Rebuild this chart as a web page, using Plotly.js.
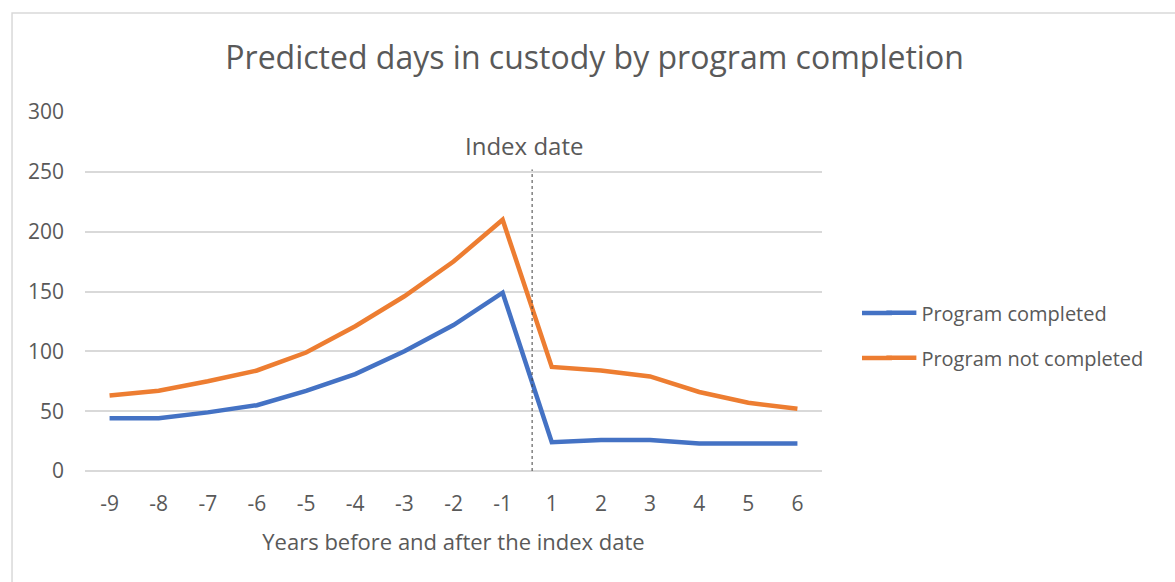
<!DOCTYPE html>
<html>
<head>
<meta charset="utf-8">
<script src="https://cdn.plot.ly/plotly-3.0.1.min.js"></script>
<style>
html,body{margin:0;padding:0;background:#fff;}
#chart{width:1175px;height:582px;}
</style>
</head>
<body>
<div id="chart"></div>
<script>
const years = ['-9','-8','-7','-6','-5','-4','-3','-2','-1','1','2','3','4','5','6'];
const programCompleted = [44, 44, 49, 55, 67, 81, 100, 122, 149, 24, 26, 26, 23, 23, 23];
const programNotCompleted = [63, 67, 75, 84, 99, 121, 146, 175, 210, 87, 84, 79, 66, 57, 52];
const seriesNames = ['Program completed', 'Program not completed'];
const seriesColors = ['#4472C4', '#ED7D31'];
const indexDatePos = 8.6;   // between -1 and 1 on the category axis
const indexLineTop = 252;
const indexLabel = 'Index date';

const FONT = 'Open Sans, sans-serif';
const GREY = '#595959';

const traces = [programCompleted, programNotCompleted].map((vals, i) => ({
  x: years,
  y: vals,
  type: 'scatter',
  mode: 'lines',
  name: seriesNames[i],
  legendgroup: 'g' + i,
  line: {color: seriesColors[i], width: 4.5},
  hoverinfo: 'x+y+name'
}));

// plot area: 85..822 px wide (737), 112..471 px high (359)
const px = v => (v - 85) / 737;
const py = v => (471 - v) / 359;

const legendRowsY = [313, 358];
const legendExt = legendRowsY.map((yy, i) => ({
  type: 'line', xref: 'paper', yref: 'paper',
  x0: px(862), x1: px(892), y0: py(yy), y1: py(yy),
  line: {color: seriesColors[i], width: 4.5}
}));

const layout = {
  width: 1175,
  height: 582,
  margin: {l: 85, r: 353, t: 112, b: 111},
  paper_bgcolor: '#ffffff',
  plot_bgcolor: '#ffffff',
  font: {family: FONT, color: GREY},
  title: {
    text: 'Predicted days in custody by program completion',
    font: {family: FONT, size: 32, color: GREY},
    x: 0.506, xanchor: 'center',
    y: 0.9, yanchor: 'middle', yref: 'container'
  },
  xaxis: {
    type: 'category',
    categoryorder: 'array',
    categoryarray: years,
    range: [-0.5, years.length - 0.5],
    showgrid: false,
    zeroline: false,
    showline: false,
    ticks: '',
    tickfont: {family: FONT, size: 21, color: GREY},
    ticklabelstandoff: 18,
    title: {
      text: 'Years before and after the index date',
      font: {family: FONT, size: 22, color: GREY},
      standoff: 18
    },
    fixedrange: true
  },
  yaxis: {
    range: [0, 300],
    tickvals: [0, 50, 100, 150, 200, 250, 300],
    showgrid: true,
    gridcolor: '#d9d9d9',
    gridwidth: 1.5,
    zeroline: true,
    zerolinecolor: '#d9d9d9',
    zerolinewidth: 1.5,
    showline: false,
    ticks: '',
    tickfont: {family: FONT, size: 21, color: GREY},
    ticklabelstandoff: 20,
    fixedrange: true
  },
  legend: {
    x: 1.048 + 24 / 737, xanchor: 'left',
    y: 0.495, yanchor: 'top',
    font: {family: FONT, size: 20, color: GREY},
    tracegroupgap: 16,
    traceorder: 'grouped',
    bgcolor: 'rgba(0,0,0,0)'
  },
  shapes: [
    {
      type: 'line', xref: 'x', yref: 'y',
      x0: indexDatePos, x1: indexDatePos, y0: 0, y1: indexLineTop,
      line: {color: '#404040', width: 1, dash: 'dot'}
    },
    {
      type: 'rect', xref: 'paper', yref: 'paper',
      x0: -0.099, x1: 1.5, y0: -0.35, y1: 1.276,
      line: {color: '#d9d9d9', width: 1.5},
      fillcolor: 'rgba(0,0,0,0)', layer: 'below'
    }
  ].concat(legendExt),
  annotations: [
    {
      text: indexLabel, xref: 'x', yref: 'y',
      x: indexDatePos - 0.17, y: 272,
      showarrow: false,
      font: {family: FONT, size: 24, color: GREY}
    }
  ],
  showlegend: true
};

Plotly.newPlot('chart', traces, layout, {displayModeBar: false, staticPlot: false});
</script>
</body>
</html>
